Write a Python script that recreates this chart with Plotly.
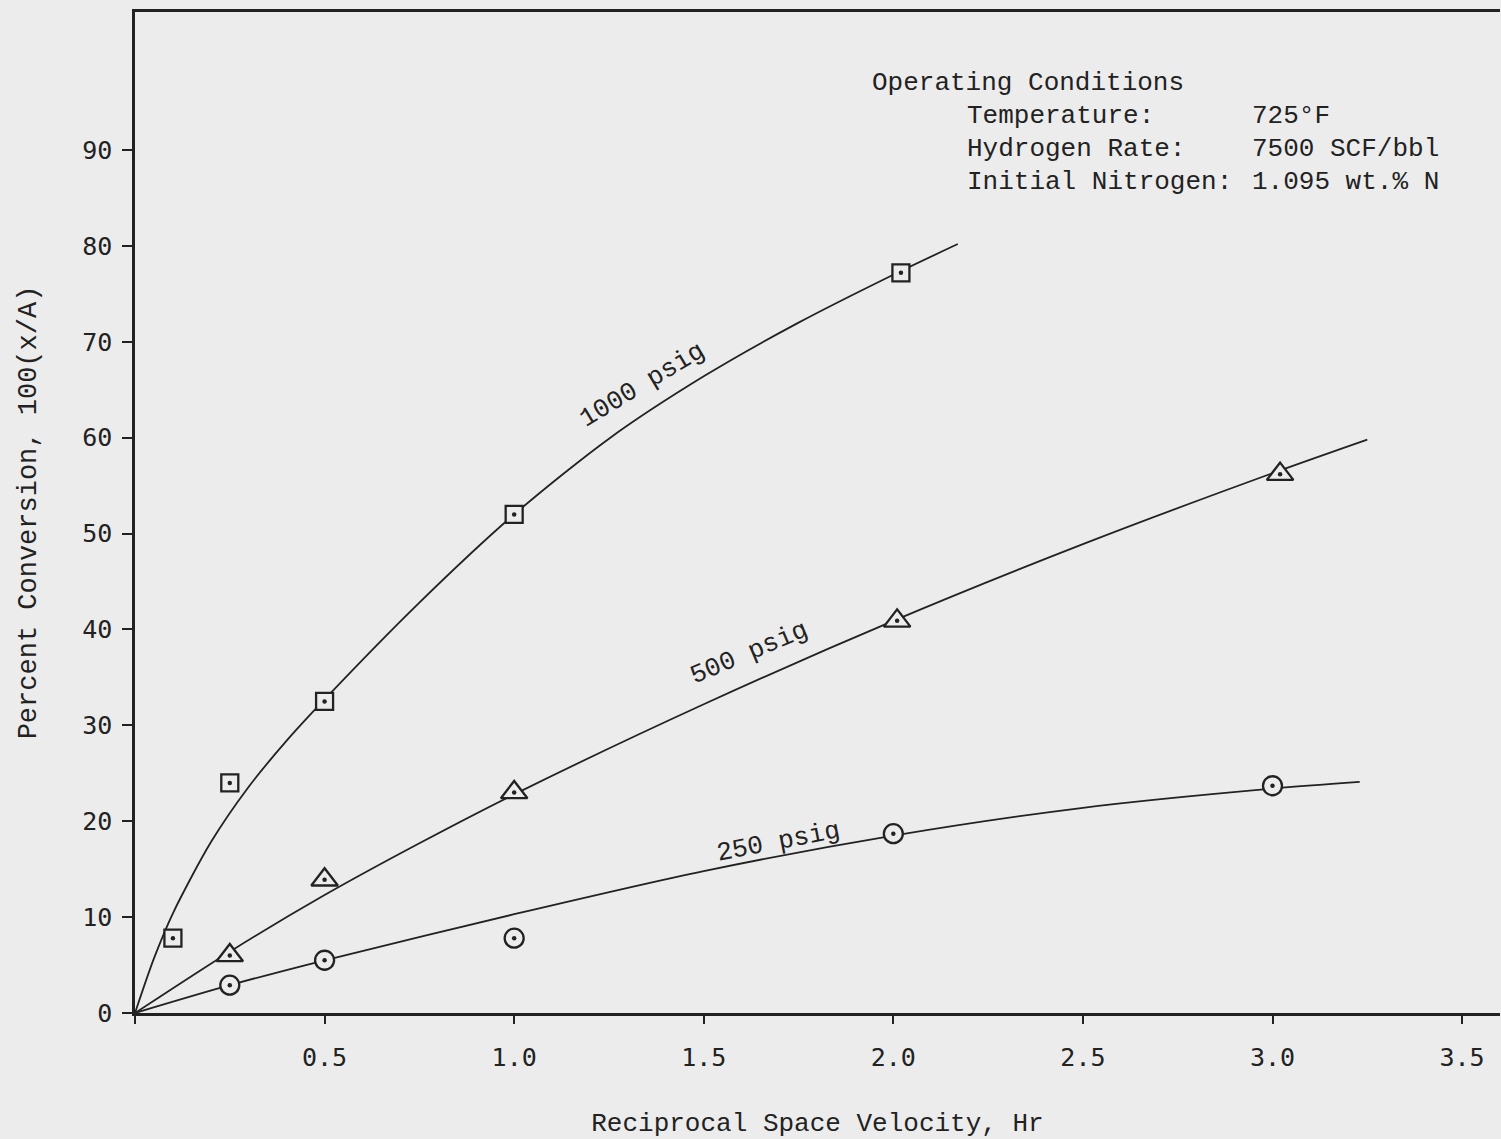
import plotly.graph_objects as go

# Measured conversions (reciprocal space velocity, Hr -> percent conversion)
sv_1000 = [0.1, 0.25, 0.5, 1.0, 2.02]
conv_1000 = [7.8, 24.0, 32.5, 52.0, 77.2]
sv_500 = [0.25, 0.5, 1.0, 2.01, 3.02]
conv_500 = [6.0, 13.9, 23.0, 40.9, 56.2]
sv_250 = [0.25, 0.5, 1.0, 2.0, 3.0]
conv_250 = [2.9, 5.5, 7.8, 18.7, 23.7]

# Hand-drawn smooth curves through the data
curve_x_1000 = [0, 0.05, 0.1, 0.2, 0.3, 0.4, 0.5, 0.75, 1.0, 1.25, 1.5, 1.75, 2.0, 2.17]
curve_y_1000 = [0, 5.7, 10.4, 17.8, 23.6, 28.4, 32.7, 42.8, 52.0, 59.9, 66.4, 72.0, 77.0, 80.2]
curve_x_500 = [0, 0.25, 0.5, 0.75, 1.0, 1.5, 2.0, 2.5, 3.0, 3.25]
curve_y_500 = [0, 6.4, 12.3, 17.7, 22.8, 32.2, 40.9, 48.9, 56.3, 59.8]
curve_x_250 = [0, 0.25, 0.5, 1.0, 1.5, 2.0, 2.5, 3.0, 3.23]
curve_y_250 = [0, 2.9, 5.5, 10.3, 14.8, 18.5, 21.4, 23.4, 24.1]

x_ticks = [0, 0.5, 1.0, 1.5, 2.0, 2.5, 3.0, 3.5]
x_tick_text = ["", "0.5", "1.0", "1.5", "2.0", "2.5", "3.0", "3.5"]
y_ticks = [0, 10, 20, 30, 40, 50, 60, 70, 80, 90]

PAPER = "#ececec"
INK = "#222222"
TYPE = "Liberation Mono"
TICKFONT = "DejaVu Sans Mono"

fig = go.Figure()

for cx, cy in [(curve_x_1000, curve_y_1000), (curve_x_500, curve_y_500), (curve_x_250, curve_y_250)]:
    fig.add_trace(go.Scatter(x=cx, y=cy, mode="lines",
                             line=dict(color=INK, width=1.8, shape="spline", smoothing=0.8),
                             hoverinfo="skip", showlegend=False))

# Open symbols filled with the paper colour, each with a centre dot
for sx, sy, sym, size in [(sv_1000, conv_1000, "square", 17),
                          (sv_500, conv_500, "triangle-up", 23),
                          (sv_250, conv_250, "circle", 19)]:
    fig.add_trace(go.Scatter(x=sx, y=sy, mode="markers", showlegend=False,
                             marker=dict(symbol=sym, size=size, color=PAPER,
                                         line=dict(color=INK, width=2.3))))
    fig.add_trace(go.Scatter(x=sx, y=sy, mode="markers", showlegend=False, hoverinfo="skip",
                             marker=dict(symbol="circle", size=4.5, color=INK, line=dict(width=0))))

# Curve labels
for txt, x, y, ang in [("1000 psig", 1.338, 65.5, -31),
                       ("500 psig", 1.62, 37.5, -23),
                       ("250 psig", 1.697, 17.8, -11)]:
    fig.add_annotation(x=x, y=y, xref="x", yref="y", text=txt, showarrow=False, textangle=ang,
                       font=dict(family=TYPE, size=26, color=INK))

# Operating conditions block
def px_x(px):
    return (px - 135) / 1365

def px_y(py):
    return (1013 - py) / 1001

fig.add_annotation(x=px_x(870), y=px_y(83), xref="paper", yref="paper", text="Operating Conditions",
                   showarrow=False, xanchor="left", yanchor="middle", font=dict(family=TYPE, size=26, color=INK))
rows = [("Temperature:", "725°F", 116), ("Hydrogen Rate:", "7500 SCF/bbl", 149),
        ("Initial Nitrogen:", "1.095 wt.% N", 182)]
for left, right, py in rows:
    fig.add_annotation(x=px_x(965), y=px_y(py), xref="paper", yref="paper", text=left, showarrow=False,
                       xanchor="left", yanchor="middle", font=dict(family=TYPE, size=26, color=INK))
    fig.add_annotation(x=px_x(1250), y=px_y(py), xref="paper", yref="paper", text=right, showarrow=False,
                       xanchor="left", yanchor="middle", font=dict(family=TYPE, size=26, color=INK))

fig.update_layout(
    width=1501, height=1139,
    margin=dict(l=135, r=1, t=12, b=126),
    paper_bgcolor=PAPER, plot_bgcolor=PAPER,
    xaxis=dict(range=[0, 3.6], tickvals=x_ticks, ticktext=x_tick_text, showgrid=False, zeroline=False,
               showline=True, linecolor=INK, linewidth=2.5, mirror=True,
               ticks="outside", ticklen=8, tickwidth=2, tickcolor=INK, ticklabelstandoff=12,
               tickfont=dict(family=TICKFONT, size=25, color=INK),
               title=dict(text="Reciprocal Space Velocity, Hr", standoff=46,
                          font=dict(family=TYPE, size=26, color=INK))),
    yaxis=dict(range=[0, 104.4], tickvals=y_ticks, showgrid=False, zeroline=False,
               showline=True, linecolor=INK, linewidth=2.5,
               ticks="outside", ticklen=10, tickwidth=2, tickcolor=INK, ticklabelstandoff=5,
               tickfont=dict(family=TICKFONT, size=25, color=INK),
               title=dict(text="Percent Conversion, 100(x/A)", standoff=38,
                          font=dict(family=TYPE, size=27, color=INK))),
)

fig.write_html("out.html")
